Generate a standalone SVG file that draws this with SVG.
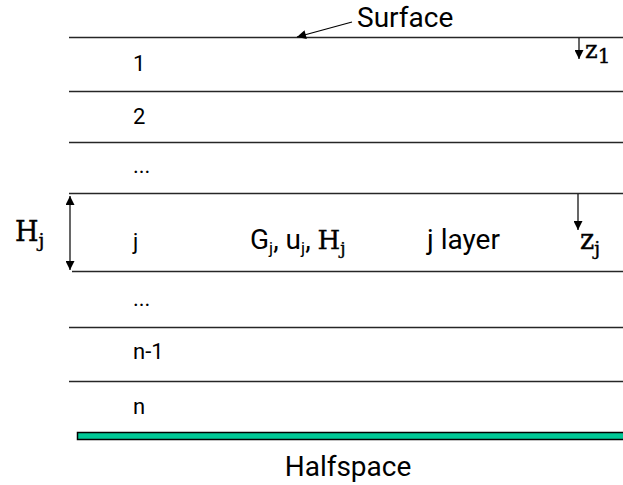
<svg xmlns="http://www.w3.org/2000/svg" width="623" height="485" viewBox="0 0 623 485">
<defs>
<marker id="ah" viewBox="0 0 10 10" refX="10" refY="5" markerWidth="10" markerHeight="9" orient="auto-start-reverse" markerUnits="userSpaceOnUse"><path d="M0,0 L10,5 L0,10 z" fill="#000"/></marker>
<style>
.ln{stroke:#262626;stroke-width:1.4;fill:none}
.lbl{font-family:Roboto,"Liberation Sans",sans-serif;font-size:22px;fill:#000}
.big{font-family:Roboto,"Liberation Sans",sans-serif;font-size:28px;fill:#000}
.m{font-family:"DejaVu Serif","Liberation Serif",serif;fill:#000;stroke:#000;stroke-width:0.4}
.arr{stroke:#000;stroke-width:1.2;fill:none;marker-end:url(#ah)}
</style>
</defs>
<rect width="623" height="485" fill="#fff"/>
<g id="layers">
<line class="ln" x1="69" y1="37.5" x2="623" y2="37.5"/>
<line class="ln" x1="69" y1="91.5" x2="623" y2="91.5"/>
<line class="ln" x1="69" y1="142.5" x2="623" y2="142.5"/>
<line class="ln" x1="69" y1="193.5" x2="623" y2="193.5"/>
<line class="ln" x1="72" y1="271.5" x2="623" y2="271.5"/>
<line class="ln" x1="69" y1="327.5" x2="623" y2="327.5"/>
<line class="ln" x1="69" y1="381.5" x2="623" y2="381.5"/>
</g>
<g id="halfspace">
<rect x="77.5" y="432.5" width="550" height="7" fill="#00C896" stroke="#000" stroke-width="1.5"/>
<text class="big" x="348" y="476" text-anchor="middle">Halfspace</text>
</g>
<g id="labels">
<text class="lbl" x="133" y="71">1</text>
<text class="lbl" x="133" y="124">2</text>
<text class="lbl" x="133" y="173">...</text>
<text class="lbl" x="133" y="249">j</text>
<text class="lbl" x="133" y="306">...</text>
<text class="lbl" x="133" y="359">n-1</text>
<text class="lbl" x="133" y="414">n</text>
<text class="big" x="357" y="27">Surface</text>
<text class="lbl" x="250" y="249" style="font-size:28px">G<tspan dy="5" font-size="17">j</tspan><tspan dy="-5">, u</tspan><tspan dy="5" font-size="17">j</tspan><tspan dy="-5">, </tspan><tspan class="m" font-size="26">H</tspan><tspan class="m" dy="5" font-size="17">j</tspan></text>
<text class="lbl" x="427" y="249" style="font-size:28px">j layer</text>
<text class="m" x="15" y="241" font-size="27">H<tspan dy="6" font-size="19">j</tspan></text>
<text class="m" x="585" y="58" font-size="24">z<tspan dy="5" font-size="20">1</tspan></text>
<text class="m" x="580" y="249" font-size="27">z<tspan dy="6" font-size="19">j</tspan></text>
</g>
<g id="connectors">
<line class="arr" x1="352" y1="22" x2="297" y2="37"/>
<line class="arr" x1="579" y1="38" x2="579" y2="59"/>
<line class="arr" x1="578" y1="194" x2="578" y2="230"/>
<line x1="70" y1="196" x2="70" y2="270" stroke="#000" stroke-width="1.2" marker-start="url(#ah)" marker-end="url(#ah)"/>
</g>
</svg>
